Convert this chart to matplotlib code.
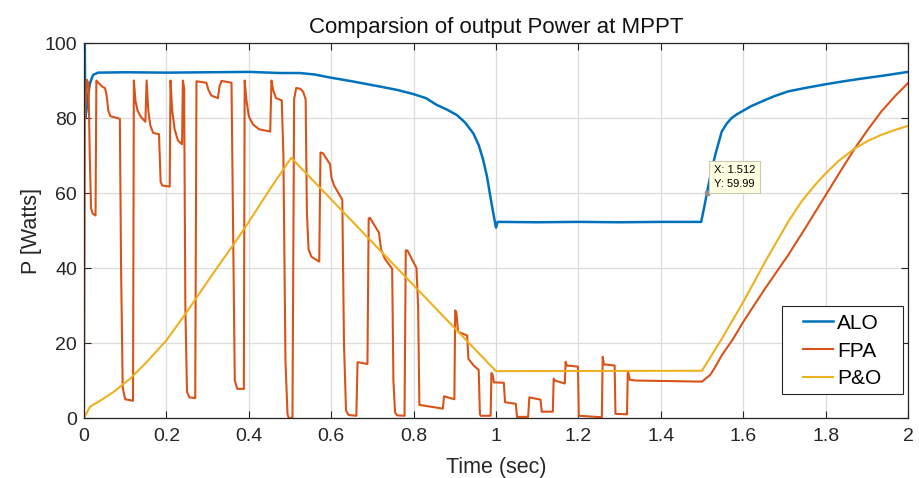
import matplotlib
matplotlib.use("Agg")
import matplotlib.pyplot as plt
from matplotlib.patches import Rectangle

plt.rcParams['font.family'] = ['Liberation Sans', 'DejaVu Sans']

# ALO output power
alo_t = [0, 0.002, 0.003, 0.006, 0.01, 0.0145, 0.022, 0.034, 0.1, 0.2, 0.3, 0.4, 0.476,
         0.524, 0.56, 0.597, 0.65, 0.718, 0.76, 0.799, 0.83, 0.856, 0.88, 0.905, 0.925,
         0.945, 0.958, 0.969, 0.978, 0.985, 0.992, 0.998, 1.0, 1.004, 1.1, 1.2, 1.3, 1.4,
         1.498, 1.505, 1.512, 1.522, 1.532, 1.548, 1.56, 1.572, 1.585, 1.596, 1.62, 1.645,
         1.675, 1.709, 1.75, 1.8, 1.85, 1.887, 1.94, 2.0]
alo_p = [100, 100, 80, 82, 86, 89.3, 91.5, 92.1, 92.2, 92.1, 92.2, 92.3, 92.0,
         92.0, 91.6, 90.8, 89.8, 88.4, 87.5, 86.4, 85.3, 83.5, 82.3, 80.8, 78.8,
         75.9, 72.8, 68.8, 64.5, 59.9, 55.5, 51.9, 50.8, 52.3, 52.2, 52.3, 52.2, 52.3,
         52.3, 56.0, 59.99, 65.5, 70.1, 76.4, 78.5, 80.0, 81.0, 81.7, 83.2, 84.4,
         85.8, 87.1, 88.0, 89.0, 89.9, 90.5, 91.3, 92.3]

# FPA output power
fpa_t = [0, 0.002, 0.007, 0.011, 0.014, 0.017, 0.021, 0.028, 0.030, 0.034, 0.045,
         0.051, 0.055, 0.059, 0.064, 0.087, 0.09, 0.094, 0.1, 0.119, 0.121, 0.125,
         0.13, 0.138, 0.149, 0.152, 0.156, 0.161, 0.168, 0.182, 0.186, 0.19, 0.208,
         0.21, 0.214, 0.22, 0.228, 0.238, 0.24, 0.243, 0.246, 0.25, 0.256, 0.27,
         0.273, 0.297, 0.302, 0.309, 0.325, 0.329, 0.334, 0.358, 0.361, 0.366, 0.372,
         0.388, 0.39, 0.394, 0.4, 0.41, 0.425, 0.452, 0.455, 0.459, 0.466, 0.48,
         0.484, 0.489, 0.494, 0.497, 0.506, 0.51, 0.515, 0.525, 0.532, 0.538, 0.541,
         0.545, 0.552, 0.571, 0.574, 0.58, 0.597, 0.601, 0.607, 0.627, 0.631, 0.636,
         0.642, 0.661, 0.664, 0.688, 0.691, 0.694, 0.716, 0.721, 0.73, 0.748, 0.751,
         0.755, 0.76, 0.778, 0.781, 0.785, 0.807, 0.811, 0.814, 0.842, 0.871, 0.874,
         0.899, 0.901, 0.904, 0.908, 0.93, 0.933, 0.945, 0.958, 0.961, 0.963, 0.987,
         0.989, 0.992, 0.995, 1.019, 1.022, 1.048, 1.051, 1.078, 1.081, 1.108, 1.111,
         1.138, 1.14, 1.143, 1.167, 1.169, 1.172, 1.199, 1.201, 1.257, 1.259, 1.262,
         1.288, 1.29, 1.318, 1.32, 1.325, 1.34, 1.5, 1.52, 1.53, 1.548, 1.575, 1.6,
         1.653, 1.709, 1.75, 1.8, 1.84, 1.871, 1.9, 1.935, 1.97, 2.0]
fpa_p = [0, 80, 90.2, 89, 70, 56, 54.5, 54, 90, 89.5, 88.3,
         88, 86, 82, 80.5, 79.8, 40, 8, 5.0, 4.6, 90, 84.5,
         82, 80.3, 79, 90, 82, 78, 76, 75.7, 63, 62, 61.7,
         90, 82, 77, 74, 73, 90, 88, 30, 7, 5.5, 5.3,
         89.8, 89.4, 87.5, 86, 85.3, 88.5, 89.9, 89.4, 60, 10, 7.8,
         7.75, 90, 85, 80.5, 78.3, 77, 76.4, 90, 87.5, 85.3, 84.7,
         70, 15, 1, 0, 0, 85, 88, 87.8, 87, 85, 55,
         45, 43, 41.7, 70.8, 70.6, 67.7, 64, 62, 58.2, 20, 2,
         0.8, 0.6, 14.9, 14.4, 53.2, 53.4, 49.4, 45, 42.5, 39.8, 10,
         1.5, 0.7, 0.6, 44.7, 44.7, 40, 30, 3.5, 3.0, 2.5, 5.8,
         5.0, 28.7, 28, 23, 22, 15.8, 14.1, 12.8, 1, 0.6, 0.6,
         12, 11.5, 9.5, 9.4, 4.2, 3.8, 0.3, 0.3, 5.5, 4.9, 1.7,
         1.7, 10.5, 10, 9.2, 15, 14, 13.7, 0.6, 0.2, 16.3, 14.3,
         14, 1.1, 1.0, 12.5, 10.2, 10.0, 9.7, 11.5, 13.2, 16.7, 21.0, 25.6,
         34.5, 43.4, 50.5, 59.4, 66.5, 71.9, 76.5, 81.7, 86.0, 89.3]

# P&O output power
po_t = [0, 0.0145, 0.039, 0.071, 0.111, 0.152, 0.2, 0.249, 0.313, 0.362, 0.4, 0.45,
        0.503, 1.0, 1.5, 1.548, 1.6, 1.653, 1.709, 1.742, 1.774, 1.8, 1.831, 1.871,
        1.903, 1.935, 1.968, 2.0]
po_p = [0, 3.0, 4.6, 6.9, 10.4, 14.9, 20.7, 28.2, 38.5, 46.1, 52.3, 60.8,
        69.4, 12.5, 12.6, 21.1, 30.9, 41.6, 52.3, 57.8, 62.1, 65.2, 68.5, 71.9,
        73.9, 75.5, 76.8, 77.9]

tip_x, tip_y = 1.512, 59.99

fig = plt.figure(figsize=(9.19, 4.78), dpi=100)
ax = fig.add_axes([0.0914, 0.1255, 0.8966, 0.7845])

ax.plot(alo_t, alo_p, color='#0072BD', lw=1.8, label='ALO')
ax.plot(fpa_t, fpa_p, color='#D95319', lw=1.5, label='FPA')
ax.plot(po_t, po_p, color='#EDB120', lw=1.5, label='P&O')

ax.set_xlim(0, 2)
ax.set_ylim(0, 100)
ax.set_xticks([0, 0.2, 0.4, 0.6, 0.8, 1, 1.2, 1.4, 1.6, 1.8, 2])
ax.set_xticklabels(['0', '0.2', '0.4', '0.6', '0.8', '1', '1.2', '1.4', '1.6', '1.8', '2'])
ax.set_yticks([0, 20, 40, 60, 80, 100])
ax.grid(True, color='#dcdcdc', lw=0.9)
ax.set_axisbelow(True)
for s in ax.spines.values():
    s.set_color('#262626')
    s.set_linewidth(0.9)
ax.tick_params(direction='in', length=5, width=0.8, color='#262626', labelcolor='#262626',
               labelsize=14, top=True, right=True)
ax.tick_params(axis='x', pad=7)
ax.tick_params(axis='y', pad=5)

ax.set_title('Comparsion of output Power at MPPT', fontsize=16, color='#111111', pad=7)
ax.set_xlabel('Time (sec)', fontsize=15.5, color='#262626', labelpad=9)
ax.set_ylabel('P [Watts]', fontsize=15.5, color='#262626', labelpad=2)

# data tip
ax.plot([tip_x], [tip_y], 's', color='#909090', ms=3)
ax.annotate('X: %.3f\nY: %.2f' % (tip_x, tip_y), xy=(tip_x, tip_y), xytext=(5, 3),
            textcoords='offset points', ha='left', va='bottom', fontsize=8,
            linespacing=1.45,
            bbox=dict(boxstyle='square,pad=0.4', fc='#ffffe1', ec='#c8c8b4', lw=0.8))

# legend with a MATLAB-like box
ax.add_patch(Rectangle((0.8467, 0.0632), 0.1468, 0.2363, transform=ax.transAxes,
                       fc='white', ec='#262626', lw=0.8, zorder=4.9))
leg = ax.legend(loc='center left', bbox_to_anchor=(0.8726, 0.1787), borderaxespad=0,
                borderpad=0, fontsize=15, handlelength=1.45, handletextpad=0.18,
                labelspacing=0.42, frameon=False)
leg.set_zorder(5)

fig.savefig('out.png', dpi=100)
